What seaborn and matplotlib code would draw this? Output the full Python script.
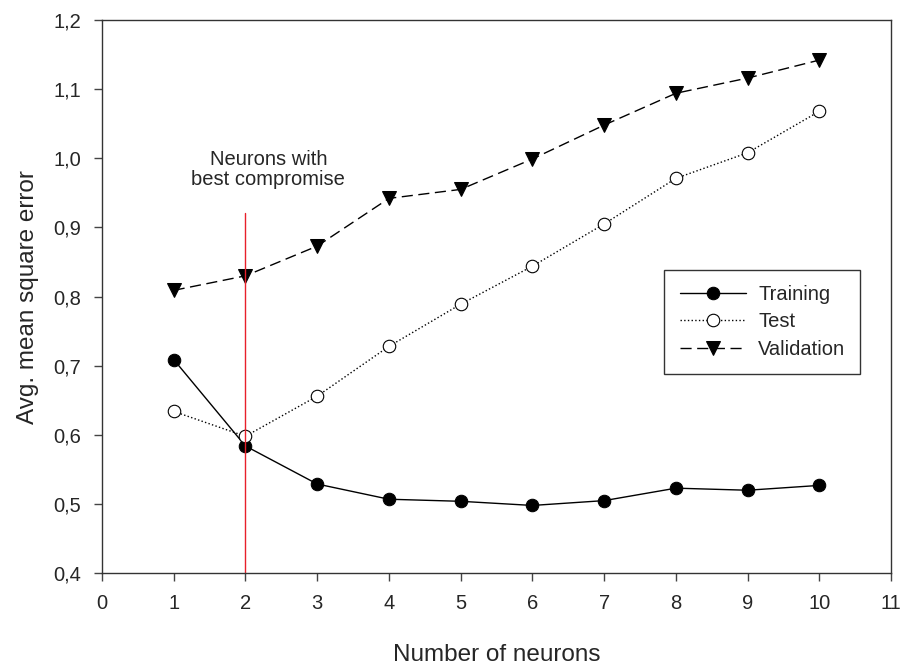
import matplotlib
matplotlib.use("Agg")
import matplotlib.pyplot as plt
import seaborn as sns
import pandas as pd

neurons = [1, 2, 3, 4, 5, 6, 7, 8, 9, 10]
training = [0.709, 0.584, 0.529, 0.507, 0.504, 0.498, 0.505, 0.523, 0.520, 0.527]
test = [0.634, 0.598, 0.656, 0.728, 0.789, 0.844, 0.905, 0.971, 1.008, 1.068]
validation = [0.809, 0.830, 0.873, 0.942, 0.955, 0.999, 1.048, 1.094, 1.116, 1.142]
x_ticks = list(range(0, 12))
y_ticks = [0.4, 0.5, 0.6, 0.7, 0.8, 0.9, 1.0, 1.1, 1.2]
best = 2

sns.set_style("ticks")
plt.rcParams['font.family'] = ['Liberation Sans', 'DejaVu Sans']

fig = plt.figure(figsize=(9.02, 6.65), dpi=100)
ax = fig.add_axes([0.113, 0.138, 0.875, 0.832])

df = pd.DataFrame({"n": neurons, "Training": training, "Test": test, "Validation": validation})

sns.lineplot(data=df, x="n", y="Training", ax=ax, color="black", lw=1.0, ls="-",
             marker="o", markersize=9, markerfacecolor="black", markeredgecolor="black", label="Training")
sns.lineplot(data=df, x="n", y="Test", ax=ax, color="black", lw=1.0, ls=":",
             marker="o", markersize=9, markerfacecolor="white", markeredgecolor="black", markeredgewidth=0.8, label="Test")
sns.lineplot(data=df, x="n", y="Validation", ax=ax, color="black", lw=1.0, ls=(0, (8, 4)),
             marker="v", markersize=10, markerfacecolor="black", markeredgecolor="black", label="Validation")

ax.plot([best, best], [0.4, 0.921], color="#e8202a", lw=1.0)
ax.text(best + 0.32, 0.955, "Neurons with\nbest compromise", ha="center", va="bottom",
        fontsize=14.5, linespacing=1.1)

ax.set_xlim(0, 11)
ax.set_ylim(0.4, 1.2)
ax.set_xticks(x_ticks)
ax.set_yticks(y_ticks)
ax.set_yticklabels([f"{v:.1f}".replace(".", ",") for v in y_ticks])
ax.tick_params(axis="both", labelsize=14.5, direction="out", length=6, width=1, pad=9,
               color="#444444")
ax.set_xlabel("Number of neurons", fontsize=17.5, labelpad=22)
ax.set_ylabel("Avg. mean square error", fontsize=17.5, labelpad=10)
for s in ax.spines.values():
    s.set_visible(True)
    s.set_linewidth(1.0)
    s.set_color("#333333")

leg = ax.legend(loc="upper left", bbox_to_anchor=(0.70, 0.567), fontsize=14.5,
                frameon=True, fancybox=False, edgecolor="black", handlelength=3.3,
                borderpad=0.75, labelspacing=0.42, handletextpad=0.6)
leg.get_frame().set_linewidth(1.0)

fig.savefig("out.png", dpi=100)
